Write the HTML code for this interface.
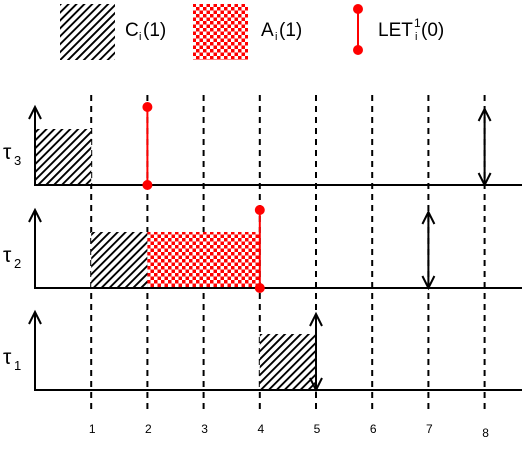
<!DOCTYPE html>
<html><head><meta charset="utf-8"><style>
html,body{margin:0;padding:0;background:#fff;}
svg{display:block;font-family:"Liberation Sans","DejaVu Sans",sans-serif;}
</style></head><body>
<svg id="chart" width="529" height="453" viewBox="0 0 529 453" xmlns="http://www.w3.org/2000/svg">
<defs>
<pattern id="hatch" patternUnits="userSpaceOnUse" width="5.6" height="5.6" patternTransform="rotate(45)">
<rect width="5.6" height="5.6" fill="#fff"/><rect x="0" y="0" width="1.9" height="5.6" fill="#000"/>
</pattern>
<pattern id="checker" patternUnits="userSpaceOnUse" width="7" height="7">
<rect width="7" height="7" fill="#fff"/><rect x="0" y="0" width="3.5" height="3.5" fill="#f00"/><rect x="3.5" y="3.5" width="3.5" height="3.5" fill="#f00"/>
</pattern>
</defs>
<g id="legend">
<rect x="60" y="4" width="55" height="56" fill="url(#hatch)"/>
<g font-size="19" fill="#000">
<text x="125" y="36">C</text><text x="139" y="40" font-size="11">i</text><text x="143" y="36">(1)</text>
</g>
<rect x="193" y="4" width="55" height="56" fill="url(#checker)"/>
<g font-size="19" fill="#000">
<text x="261" y="36">A</text><text x="275" y="40" font-size="11">i</text><text x="279" y="36">(1)</text>
</g>
<line x1="358" y1="9" x2="358" y2="50" stroke="#f00" stroke-width="2"/>
<circle cx="358" cy="9" r="5" fill="#f00"/><circle cx="358" cy="50" r="5" fill="#f00"/>
<g font-size="19" fill="#000">
<text x="378" y="36">LET</text><text x="414" y="27" font-size="12">1</text><text x="415" y="40" font-size="11">i</text><text x="421" y="36">(0)</text>
</g>
</g>
<g id="plot"></g>
</svg>
<script>
const ticks = [1,2,3,4,5,6,7,8];
const tasks = ["τ3","τ2","τ1"];
const taskSub = ["3","2","1"];
const execStart = [0,1,4];
const execLen = [1,1,1];
const accessStart = [null,2,null];
const accessLen = [0,2,0];
const letTime = [2,4,null];
const deadline = [8,7,5];

const NS="http://www.w3.org/2000/svg";
const g=document.getElementById('plot');
const x=t=>35+t*56.2;
const base=[185,288,390];
const boxH=56, axisH=78;
function el(tag,attrs,parent){const e=document.createElementNS(NS,tag);for(const k in attrs)e.setAttribute(k,attrs[k]);(parent||g).appendChild(e);return e;}
function arrowHead(cx,cy,dir){
  return el('path',{d:`M${cx-6},${cy-dir*12} L${cx},${cy} L${cx+6},${cy-dir*12}`,fill:'none',stroke:'#000','stroke-width':2});
}
ticks.forEach((t,i)=>{
  const l=el('line',{x1:x(t),x2:x(t),y1:95,y2:412,stroke:'#000','stroke-width':2,'stroke-dasharray':'6,5'});
  
  
  const tx=el('text',{x:x(t)+1,y:t===8?437:433,'font-size':12,'text-anchor':'middle',fill:'#000'});
  tx.textContent=t;
  
  
});
tasks.forEach((name,i)=>{
  const b=base[i];
  const r=el('rect',{x:x(execStart[i]),y:b-boxH,width:x(execStart[i]+execLen[i])-x(execStart[i]),height:boxH,fill:'url(#hatch)'});
  
  
  if(accessStart[i]!==null){
    const a=el('rect',{x:x(accessStart[i]),y:b-boxH,width:x(accessStart[i]+accessLen[i])-x(accessStart[i]),height:boxH,fill:'url(#checker)'});
    
    
  }
  const bl=el('line',{x1:34,x2:522,y1:b,y2:b,stroke:'#000','stroke-width':2});
  
  
  el('line',{x1:35,x2:35,y1:b,y2:b-axisH,stroke:'#000','stroke-width':2});
  arrowHead(35,b-axisH,-1);
  const lg0=el('g',{});
  
  
  const t1=el('text',{x:3,y:b-26,'font-size':21,fill:'#000'},lg0);
  t1.textContent='τ';
  const t2=el('text',{x:14,y:b-20,'font-size':13,fill:'#000'},lg0);
  t2.textContent=taskSub[i];
  if(letTime[i]!==null){
    const lx=x(letTime[i]);
    const lg=el('g',{});
    
    
    el('line',{x1:lx,x2:lx,y1:b,y2:b-axisH,stroke:'#f00','stroke-width':2},lg);
    el('circle',{cx:lx,cy:b-axisH,r:5,fill:'#f00'},lg);
    el('circle',{cx:lx,cy:b,r:5,fill:'#f00'},lg);
  }
  const dx=x(deadline[i]);
  const dl=el('line',{x1:dx,x2:dx,y1:b-76,y2:b,stroke:'#000','stroke-width':2});
  
  
  arrowHead(dx,b-76,-1);
  arrowHead(dx,b,1);
});
</script>
</body></html>
